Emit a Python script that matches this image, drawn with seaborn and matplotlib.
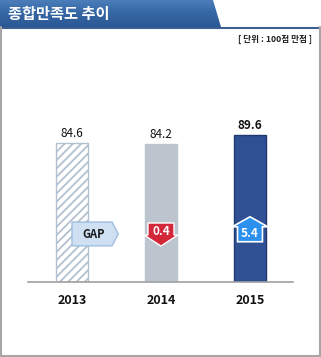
import numpy as np
import pandas as pd
import seaborn as sns
import matplotlib
matplotlib.use("Agg")
import matplotlib.pyplot as plt
from matplotlib.patches import Polygon
from matplotlib.colors import LinearSegmentedColormap

years = ["2013", "2014", "2015"]
scores = [84.6, 84.2, 89.6]
score_labels = ["84.6", "84.2", "89.6"]
changes = ["GAP", "0.4", "5.4"]
title = "종합만족도 추이"
unit_text = "[ 단위 : 100점 만점 ]"

sns.set_theme(style="white")
plt.rcParams['font.family'] = ['Noto Sans CJK KR', 'DejaVu Sans']
plt.rcParams['hatch.linewidth'] = 1.3

W, H = 321, 357
fig = plt.figure(figsize=(W / 100, H / 100), dpi=100)
fig.patch.set_facecolor("white")

# background / frame axes in pixel coordinates
bg = fig.add_axes([0, 0, 1, 1], zorder=0)
bg.set_xlim(0, W)
bg.set_ylim(H, 0)
bg.axis("off")

banner = Polygon([[0, 0], [213, 0], [221, 27], [0, 27]], closed=True,
                 facecolor="none", edgecolor="none")
bg.add_patch(banner)
grad = np.linspace(0, 1, 64).reshape(-1, 1)
cmap = LinearSegmentedColormap.from_list("b", ["#4b7dba", "#3566a4", "#2b5894"])
im = bg.imshow(grad, cmap=cmap, extent=[0, 222, 27, 0], aspect="auto", zorder=1)
im.set_clip_path(banner)
bg.plot([0, W], [27.5, 27.5], color="#3a5f90", lw=1.5, zorder=2)
bg.plot([1, 1], [27, 355.5], color="#a6a6a6", lw=1.5, zorder=2)
bg.plot([W - 1.5, W - 1.5], [27, 355.5], color="#a6a6a6", lw=1.5, zorder=2)
bg.plot([1, W - 1.5], [355.5, 355.5], color="#a6a6a6", lw=1.5, zorder=2)

bg.text(8, 14.5, title, color="white", fontsize=11, fontweight="bold",
        va="center", ha="left", zorder=3)
bg.text(312, 39, unit_text, color="#222222", fontsize=6.2, fontweight="bold",
        va="center", ha="right", zorder=3)

# main axes
ax = fig.add_axes([28 / W, 75 / H, 265 / W, 164.3 / H], zorder=1)
ax.patch.set_alpha(0)
df = pd.DataFrame({"year": years, "score": scores})
colors = ["#ffffff", "#bcc4cd", "#2f5093"]
sns.barplot(data=df, x="year", y="score", hue="year", palette=colors,
            legend=False, width=0.37, ax=ax, saturation=1, dodge=False)
edgecols = ["#b3c0d0", "#bcc4cd", "#1f3a70"]
for i, p in enumerate(ax.patches):
    p.set_edgecolor(edgecols[i])
    p.set_linewidth(1.0)
    if i == 0:
        p.set_hatch("////")

ax.set_ylim(0, 100)
ax.set_xlim(-0.494, 2.483)
for s in ["top", "left", "right"]:
    ax.spines[s].set_visible(False)
ax.spines["bottom"].set_color("#a0a0a0")
ax.spines["bottom"].set_linewidth(1.2)
ax.set_yticks([])
ax.set_xlabel("")
ax.set_ylabel("")
ax.tick_params(axis="x", length=0, pad=9, labelsize=9)
for t in ax.get_xticklabels():
    t.set_fontweight("bold")
    t.set_color("#111111")

for i, (v, lab) in enumerate(zip(scores, score_labels)):
    ax.text(i, v + 5.5, lab, ha="center", va="center", fontsize=8.5,
            fontweight="bold" if i == 2 else "normal", color="#111111")

# GAP badge (pentagon)
gap = Polygon([[0.0, 36.5], [0.45, 36.5], [0.52, 29.2], [0.45, 22.0], [0.0, 22.0]],
              closed=True, facecolor="#cfe0f3", edgecolor="#9fbfe0", lw=1.0, zorder=5)
ax.add_patch(gap)
ax.text(0.245, 29.2, changes[0], ha="center", va="center", fontsize=8,
        fontweight="bold", color="#1a1a1a", zorder=6)

# red down arrow
xc = 1
down = Polygon([[xc - 0.146, 35.9], [xc + 0.146, 35.9], [xc + 0.146, 28.6],
                [xc + 0.19, 28.6], [xc, 21.9], [xc - 0.19, 28.6],
                [xc - 0.146, 28.6]], closed=True, facecolor="#d3273a",
               edgecolor="white", lw=1.0, zorder=5)
ax.add_patch(down)
ax.text(xc, 30.6, changes[1], ha="center", va="center", fontsize=8.5,
        fontweight="bold", color="white", zorder=6)

# blue up arrow
xc = 2
up = Polygon([[xc - 0.14, 24.5], [xc + 0.14, 24.5], [xc + 0.14, 33.6],
              [xc + 0.2, 33.6], [xc, 39.7], [xc - 0.2, 33.6],
              [xc - 0.14, 33.6]], closed=True, facecolor="#2b90ee",
             edgecolor="white", lw=1.2, zorder=5)
ax.add_patch(up)
ax.text(xc, 29.4, changes[2], ha="center", va="center", fontsize=8.5,
        fontweight="bold", color="white", zorder=6)

fig.savefig("out.png", dpi=100)
